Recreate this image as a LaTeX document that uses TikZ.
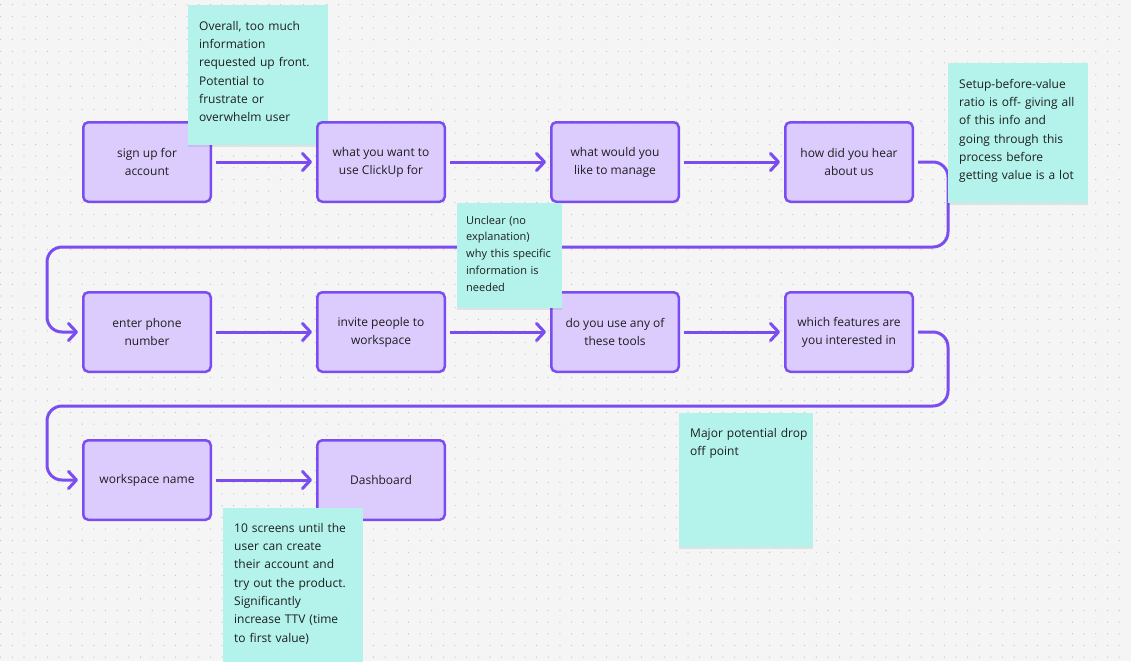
\documentclass[tikz,border=0pt]{standalone}
\usepackage{fontspec}
\setmainfont{Open Sans}
\usepackage{tikz}
\usetikzlibrary{arrows.meta,positioning,shadows}

\definecolor{canvasbg}{HTML}{F5F5F5}
\definecolor{gridDot}{HTML}{C4C4C4}
\definecolor{stepFill}{HTML}{DCCCFE}
\definecolor{stepLine}{HTML}{7B4DF0}
\definecolor{sticky}{HTML}{B3F3EB}
\definecolor{inkc}{HTML}{1E1E1E}

\begin{document}
\begin{tikzpicture}[
  x=1pt,y=-1pt,
  >={Straight Barb[length=8pt,width=17pt,round]},
  every node/.style={text=inkc},
  scr/.style={draw=stepLine,fill=stepFill,line width=2.5pt,rounded corners=5pt,
              minimum width=127.5pt,minimum height=79.5pt,align=center,
              font=\fontsize{12}{18}\selectfont},
  stk/.style={fill=sticky,anchor=north west,inner xsep=11pt,inner ysep=0pt,
              text height=25pt,align=left,font=\fontsize{12}{18.3}\selectfont,
              drop shadow={shadow xshift=0pt,shadow yshift=-2pt,opacity=0.08,fill=black}},
  flow/.style={->,draw=stepLine,line width=3pt,shorten <=4pt,shorten >=4pt}
]

%% canvas with dot grid
\fill[canvasbg] (0,0) rectangle (1131,661);
\useasboundingbox (0,0) rectangle (1131,661);
\foreach \i in {0,...,96}
  \foreach \j in {0,...,56}
    \fill[gridDot] (0.7+11.65*\i,4.7+11.65*\j) circle[radius=0.65pt];

%% first row of screens
\node[scr] (t1) at (147,162) {sign up for\\account};
\node[stk,text width=118pt,text depth=115pt] (n1) at (188,5)
  {Overall, too much\\information\\requested up front.\\Potential to\\frustrate or\\overwhelm user};
\node[scr,right=104pt of t1] (t2) {what you want to\\use ClickUp for};
\node[scr,right=104pt of t2] (t3) {what would you\\like to manage};
\node[scr,right=104pt of t3] (t4) {how did you hear\\about us};

%% second row
\node[scr,below=88pt of t1] (m1) {enter phone\\number};
\node[scr,right=104pt of m1] (m2) {invite people to\\workspace};
\node[scr,right=104pt of m2] (m3) {do you use any of\\these tools};
\node[scr,right=104pt of m3] (m4) {which features are\\you interested in};

%% third row
\node[scr,below=66pt of m1] (b1) {workspace name};
\node[scr,right=104pt of b1] (b2) {Dashboard};

%% flow arrows
\coordinate (wrapA) at (47,247);
\coordinate (wrapB) at (47,406);
\draw[flow] (t1.east) -- (t2.west);
\draw[flow] (t2.east) -- (t3.west);
\draw[flow] (t3.east) -- (t4.west);
\draw[flow,rounded corners=15pt] (t4.east) -- ++(34,0) |- (wrapA) |- (m1.west);
\draw[flow] (m1.east) -- (m2.west);
\draw[flow] (m2.east) -- (m3.west);
\draw[flow] (m3.east) -- (m4.west);
\draw[flow,rounded corners=15pt] (m4.east) -- ++(34,0) |- (wrapB) |- (b1.west);
\draw[flow] (b1.east) -- (b2.west);

%% sticky notes
\node[stk,inner xsep=9pt,text width=87pt,text height=21pt,text depth=84pt,
      font=\fontsize{11}{16.7}\selectfont] (n2) at (457,203)
  {Unclear (no\\explanation)\\why this specific\\information is\\needed};
\node[stk,text width=118pt,text depth=115pt] (n3) at (948,63)
  {Setup-before-value\\ratio is off- giving all\\of this info and\\going through this\\process before\\getting value is a lot};
\node[stk,text width=112pt,text height=24pt,text depth=110pt] (n4) at (679,413)
  {\mbox{Major potential drop}\\off point};
\node[stk,text width=118pt,text height=24pt,text depth=134pt] (n5) at (223,508)
  {10 screens until the\\user can create\\their account and\\try out the product.\\Significantly\\increase TTV (time\\to first value)};

\end{tikzpicture}
\end{document}
